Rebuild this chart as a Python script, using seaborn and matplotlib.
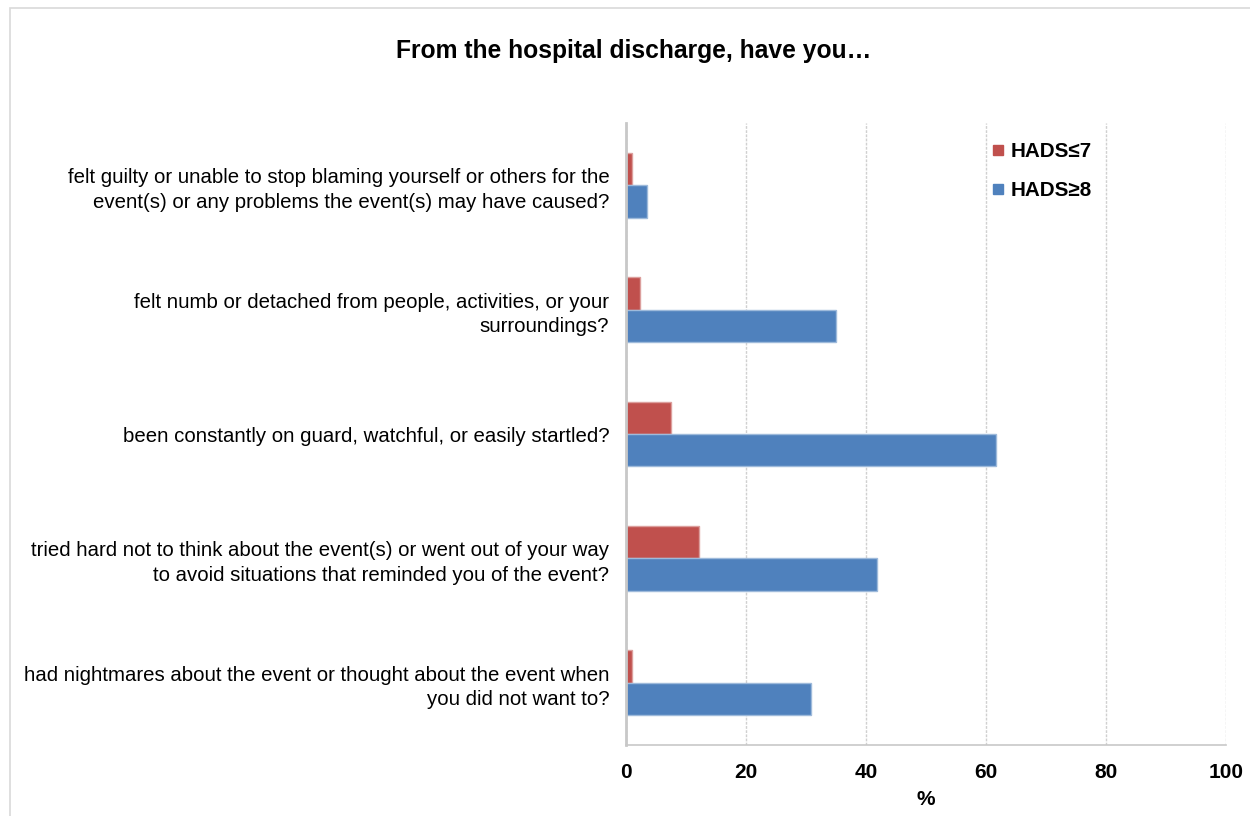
import matplotlib
matplotlib.use("Agg")
import matplotlib.pyplot as plt
from matplotlib.lines import Line2D
from matplotlib.patches import Rectangle
import seaborn as sns
import pandas as pd

questions = [
    "felt guilty or unable to stop blaming yourself or others for the\nevent(s) or any problems the event(s) may have caused?",
    "felt numb or detached from people, activities, or your\nsurroundings?",
    "been constantly on guard, watchful, or easily startled?",
    "tried hard not to think about the event(s) or went out of your way\nto avoid situations that reminded you of the event?",
    "had nightmares about the event or thought about the event when\nyou did not want to?",
]
groups = ["HADS≤7", "HADS≥8"]
hads_low = [1.0, 2.4, 7.5, 12.2, 1.0]
hads_high = [3.5, 35.0, 61.7, 41.8, 30.8]
colors = ["#C0504D", "#4F81BD"]
xticks = [0, 20, 40, 60, 80, 100]

df = pd.DataFrame({
    "question": questions * 2,
    "group": [groups[0]] * len(questions) + [groups[1]] * len(questions),
    "value": hads_low + hads_high,
})

sns.set_theme(style="white")
plt.rcParams["font.family"] = ["Liberation Sans", "DejaVu Sans"]
plt.rcParams["text.color"] = "black"
plt.rcParams["xtick.color"] = "black"
plt.rcParams["ytick.color"] = "black"
plt.rcParams["axes.labelcolor"] = "black"

fig = plt.figure(figsize=(12.5, 8.16), dpi=100)
ax = fig.add_axes([0.5008, 0.087, 0.48, 0.762])

sns.barplot(data=df, y="question", x="value", hue="group", order=questions,
            hue_order=groups, palette=colors, width=0.52, orient="h",
            saturation=1, ax=ax, legend=False)

for p in ax.patches:
    fc = p.get_facecolor()
    light = tuple(min(1, c + (1 - c) * 0.45) for c in fc[:3])
    p.set_edgecolor(light)
    p.set_linewidth(1.0)

ax.set_xlim(0, 100)
ax.set_ylim(len(questions) - 0.5, -0.5)
ax.set_xticks(xticks)
ax.set_xticklabels([str(t) for t in xticks], fontsize=15, fontweight="bold")
ax.tick_params(axis="x", length=0, pad=13)
ax.tick_params(axis="y", length=0, pad=12, labelsize=14.7)
for lbl in ax.get_yticklabels():
    lbl.set_horizontalalignment("right")
    lbl.set_multialignment("right")
    lbl.set_linespacing(1.36)

ax.set_ylabel("")
ax.set_xlabel("%", fontsize=15, fontweight="bold", labelpad=6)

ax.grid(axis="x", color="#D0D0D0", linestyle=(0, (2, 1)), linewidth=1)
ax.set_axisbelow(True)
for s in ["top", "right"]:
    ax.spines[s].set_visible(False)
ax.spines["left"].set_color("#C8C8C8")
ax.spines["left"].set_linewidth(2)
ax.spines["bottom"].set_color("#C8C8C8")
ax.spines["bottom"].set_linewidth(1.2)

handles = [Line2D([0], [0], marker="s", color="none", markerfacecolor=c,
                  markeredgecolor=c, markersize=7.5) for c in colors]
ax.legend(handles, groups, loc="upper left", bbox_to_anchor=(0.607, 0.969),
          frameon=False, prop={"weight": "bold", "size": 14.9},
          handlelength=0.8, handletextpad=0.2, labelspacing=0.95,
          borderpad=0, borderaxespad=0)

fig.text(0.507, 0.937, "From the hospital discharge, have you…", ha="center",
         va="center", fontsize=17.7, fontweight="bold")

fig.patches.append(Rectangle((0.008, -0.01), 1.2, 1.0, transform=fig.transFigure,
                             fill=False, edgecolor="#D9D9D9", linewidth=1.2))

fig.savefig("out.png", dpi=100)
